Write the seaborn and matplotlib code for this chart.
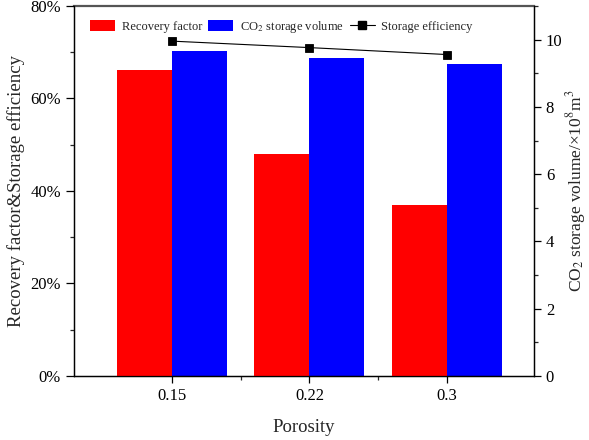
import matplotlib
matplotlib.use("Agg")
import matplotlib.pyplot as plt
import matplotlib.ticker as mticker
from matplotlib.patches import Patch
from matplotlib.lines import Line2D
import seaborn as sns
import pandas as pd

# Data
porosity = ["0.15", "0.22", "0.3"]
recovery_factor = [66.2, 48.1, 37.0]          # %
storage_volume = [9.65, 9.45, 9.27]           # x10^8 m^3
storage_efficiency = [72.4, 71.0, 69.5]       # %

series = ["Recovery factor", "CO2 storage volume"]

sns.set_style("ticks")
plt.rcParams["font.family"] = ["Liberation Serif", "DejaVu Serif"]
plt.rcParams["mathtext.fontset"] = "stix"

fig = plt.figure(figsize=(5.89, 4.40), dpi=100)
ax1 = fig.add_axes([0.1256, 0.1455, 0.781, 0.8409])
ax2 = ax1.twinx()

df_rf = pd.DataFrame({"Porosity": porosity, "value": recovery_factor,
                      "series": series[0]})
df_sv = pd.DataFrame({"Porosity": porosity, "value": storage_volume,
                      "series": series[1]})
palette = {series[0]: "#ff0000", series[1]: "#0000ff"}

# Recovery factor on the left axis, storage volume on the right axis,
# dodged within each porosity group
sns.barplot(data=df_rf, x="Porosity", y="value", hue="series",
            hue_order=series, order=porosity, palette=palette, width=0.8,
            dodge=True, saturation=1, linewidth=0, legend=False, ax=ax1)
sns.barplot(data=df_sv, x="Porosity", y="value", hue="series",
            hue_order=series, order=porosity, palette=palette, width=0.8,
            dodge=True, saturation=1, linewidth=0, legend=False, ax=ax2)
sns.pointplot(x=porosity, y=storage_efficiency, order=porosity, color="black",
              markers="s", markersize=5.5, linewidth=0.8, ax=ax1)

ax1.set_zorder(ax2.get_zorder() + 1)
ax1.patch.set_visible(False)

ax1.set_xlim(-0.713, 2.633)
ax1.set_ylim(0, 80)
ax2.set_ylim(0, 11)

ax1.yaxis.set_major_locator(mticker.MultipleLocator(20))
ax1.yaxis.set_minor_locator(mticker.MultipleLocator(10))
ax1.yaxis.set_major_formatter(mticker.FuncFormatter(lambda v, p: f"{v:.0f}%"))
ax2.yaxis.set_major_locator(mticker.MultipleLocator(2))
ax2.yaxis.set_minor_locator(mticker.MultipleLocator(1))
ax1.xaxis.set_minor_locator(mticker.FixedLocator([0.5, 1.5]))

for ax in (ax1, ax2):
    ax.tick_params(which="major", direction="out", length=5, width=0.9,
                   labelsize=12, colors="black")
    ax.tick_params(which="minor", direction="out", length=3, width=0.9)
    for s in ax.spines.values():
        s.set_visible(True)
        s.set_linewidth(0.9)
        s.set_color("black")
ax2.spines["top"].set_color("#555555")
ax2.spines["top"].set_linewidth(1.6)
ax1.spines["top"].set_visible(False)
ax1.tick_params(axis="y", which="major", length=6)

ax1.set_xlabel("Porosity", fontsize=13.5, labelpad=11)
ax1.set_ylabel("Recovery factor&Storage efficiency", fontsize=13.5, labelpad=4)
ax2.set_ylabel("CO$_2$ storage volume/×10$^8$m$^3$", fontsize=12.5, labelpad=1)

handles = [
    Patch(facecolor="#ff0000", edgecolor="none"),
    Patch(facecolor="#0000ff", edgecolor="none"),
    Line2D([0], [0], color="black", lw=0.8, marker="s", markersize=5.5),
]
labels = ["Recovery factor", "CO$_2$ storage volume", "Storage efficiency"]
ax1.legend(handles, labels, loc="center left", bbox_to_anchor=(0.025, 0.943),
           ncol=3, frameon=False, fontsize=9, handlelength=2.0,
           handleheight=0.95, handletextpad=0.5, columnspacing=0.5,
           borderaxespad=0)

fig.savefig("out.png", dpi=100)
